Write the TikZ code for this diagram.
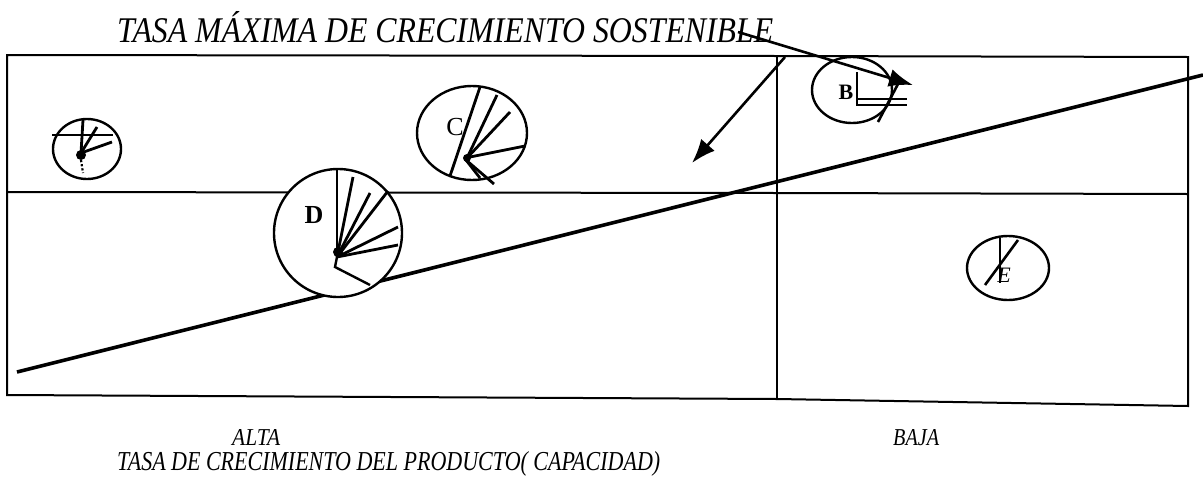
\documentclass[tikz,border=0pt]{standalone}
\usepackage{fontspec}
\setmainfont{Liberation Serif}
\usetikzlibrary{shapes.geometric,arrows.meta}
\begin{document}
\begin{tikzpicture}[x=1pt,y=-1pt,
  frame/.style={line width=2pt},
  slope/.style={line width=3.6pt},
  bubble/.style={draw,ellipse,line width=2.4pt,fill=white,inner sep=0pt},
  spoke/.style={line width=2.8pt},
  lab/.style={inner sep=0pt,anchor=base west},
  arr/.style={line width=2.6pt,-{Latex[length=24pt,width=18pt]}}]
\useasboundingbox (0,0) rectangle (1203,488);
% frame
\coordinate (tl) at (7,55); \coordinate (tm) at (777,56); \coordinate (tr) at (1188,57);
\coordinate (bl) at (7,395); \coordinate (bm) at (777,399); \coordinate (br) at (1188,406);
\coordinate (ml) at (7,192); \coordinate (mm) at (777,193); \coordinate (mr) at (1188,194);
\draw[frame] (tl) -- (tm) -- (tr) -- (br) -- (bm) -- (bl) -- cycle;
\draw[frame] (tm) -- (bm);
\draw[frame] (ml) -- (mm) -- (mr);
% sloped line
\coordinate (s0) at (17,372); \coordinate (s1) at (1203,75);
\draw[slope] (s0) -- (s1);
% title and labels
\node[lab] (title) at (117,42) {\resizebox{656pt}{31pt}{\itshape TASA MÁXIMA DE CRECIMIENTO SOSTENIBLE}};
\node[lab] (alta) at (232,445) {\resizebox{48pt}{16pt}{\itshape ALTA}};
\node[lab] (baja) at (893,445) {\resizebox{46pt}{16pt}{\itshape BAJA}};
\node[lab] (axis) at (117,470) {\resizebox{543pt}{19pt}{\itshape TASA DE CRECIMIENTO DEL PRODUCTO( CAPACIDAD)}};
% circle A (left)
\node[bubble,minimum width=68pt,minimum height=60pt] (cA) at (87,149) {};
\draw[line width=2.2pt] (52,135) -- (113,135);
\draw[spoke] (83,120) -- (81,153);
\draw[spoke] (81,153) -- (97,127);
\draw[spoke] (81,153) -- (112,142);
\fill (81,155) circle (5pt);
\draw[line width=2.2pt,dotted] (81,160) -- (83,173);
% circle C
\node[bubble,minimum width=110pt,minimum height=94pt] (cC) at (472,133) {};
\node[inner sep=0pt] (lC) at (455,127) {\fontsize{26}{26}\selectfont C};
\draw[spoke] (480,87) -- (450,176);
\draw[spoke] (467,158) -- (497,95);
\draw[spoke] (467,158) -- (510,112);
\draw[spoke] (470,157) -- (525,146);
\draw[spoke] (466,160) -- (494,184);
\draw[spoke] (466,160) -- (480,178);
\fill (467,158) circle (4pt);
% circle D
\node[bubble,minimum width=128pt,minimum height=128pt] (cD) at (338,233) {};
\node[inner sep=0pt] (lD) at (314,215) {\fontsize{26}{26}\selectfont\bfseries D};
\draw[spoke] (337,257) -- (337,170);
\draw[spoke] (337,257) -- (353,177);
\draw[spoke] (337,257) -- (370,193);
\draw[spoke] (337,257) -- (388,191);
\draw[spoke] (337,257) -- (398,227);
\draw[spoke] (337,257) -- (398,245);
\draw[line width=2.4pt] (337,257) -- (335,267) -- (370,285);
\fill (338,252) circle (5pt);
% circle B
\node[bubble,minimum width=80pt,minimum height=66pt] (cB) at (852,90) {};
\node[inner sep=0pt] (lB) at (846,92) {\fontsize{22}{22}\selectfont\bfseries B};
\draw[line width=2.2pt] (857,72) -- (857,105) -- (907,105);
\draw[line width=2.2pt] (857,99) -- (907,99);
\draw[line width=2.6pt] (898,84) -- (878,122);
% circle E
\node[bubble,minimum width=82pt,minimum height=64pt] (cE) at (1008,268) {};
\node[inner sep=0pt] (lE) at (1004,275) {\fontsize{22}{22}\selectfont\itshape E};
\draw[line width=2.4pt] (1000,238) -- (1000,283);
\draw[line width=2.6pt] (1018,240) -- (985,285);
% arrows
\coordinate (a1s) at (738,32); \coordinate (a1e) at (913,85);
\draw[arr] (a1s) -- (a1e);
\coordinate (a2s) at (785,57); \coordinate (a2e) at (692,163);
\draw[arr] (a2s) -- (a2e);
\end{tikzpicture}
\end{document}
